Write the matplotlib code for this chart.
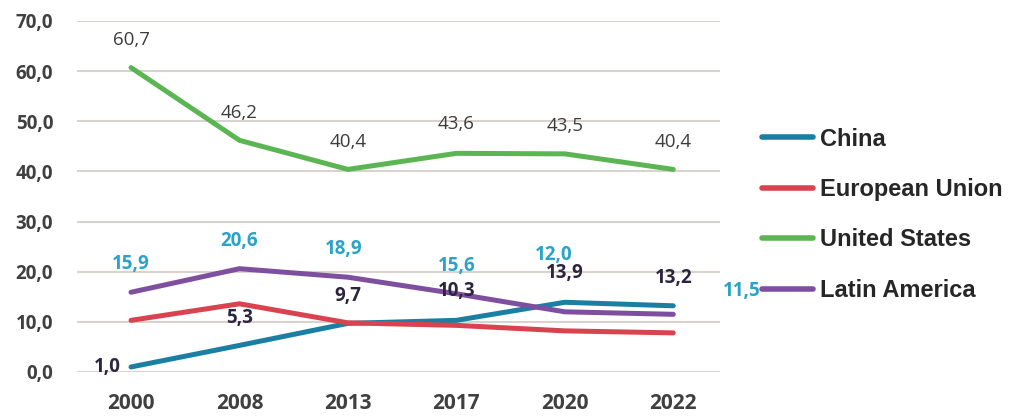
import matplotlib
matplotlib.use("Agg")
import matplotlib.pyplot as plt
from matplotlib.ticker import FuncFormatter

years = ["2000", "2008", "2013", "2017", "2020", "2022"]

china = [1.0, 5.3, 9.7, 10.3, 13.9, 13.2]
european_union = [10.3, 13.6, 9.8, 9.3, 8.2, 7.8]
united_states = [60.7, 46.2, 40.4, 43.6, 43.5, 40.4]
latin_america = [15.9, 20.6, 18.9, 15.6, 12.0, 11.5]

# label offsets in points (dx, dy) for each point
china_offsets = [(-17, 0), (0, 20), (0, 20), (0, 21), (0, 21), (0, 20)]
latam_offsets = [(0, 20), (0, 20), (-3, 20), (0, 20), (-8, 41), (49, 17)]
usa_offsets = [(0, 20), (0, 20), (0, 20), (0, 21), (0, 20), (0, 20)]

c_china = "#1b7ea3"
c_eu = "#d9434f"
c_usa = "#5cb553"
c_latam = "#7e4f9f"


def fmt_comma(v, pos=None):
    return f"{v:.1f}".replace(".", ",")


fig = plt.figure(figsize=(10.24, 4.16), dpi=100)
ax = fig.add_axes([0.075, 0.1058, 0.628, 0.8438])

x = range(len(years))
lw = 3.6
ax.plot(x, china, color=c_china, lw=lw, label="China", solid_capstyle="round", zorder=3)
ax.plot(x, european_union, color=c_eu, lw=lw, label="European Union", solid_capstyle="round", zorder=3)
ax.plot(x, united_states, color=c_usa, lw=lw, label="United States", solid_capstyle="round", zorder=3)
ax.plot(x, latin_america, color=c_latam, lw=lw, label="Latin America", solid_capstyle="round", zorder=3)


def put_labels(values, offsets, color, weight):
    for i, (v, off) in enumerate(zip(values, offsets)):
        ax.annotate(fmt_comma(v), xy=(i, v), xytext=off, textcoords="offset points",
                    ha="center", va="center", fontsize=13.5, color=color,
                    fontfamily="Open Sans", fontweight=weight, zorder=4)


put_labels(united_states, usa_offsets, "#3c3c3c", "normal")
put_labels(latin_america, latam_offsets, "#2aa3c9", "bold")
put_labels(china, china_offsets, "#2b2540", "bold")

ax.set_xlim(-0.5, 5.43)
ax.set_ylim(0, 70)
ax.set_yticks(range(0, 71, 10))
ax.yaxis.set_major_formatter(FuncFormatter(fmt_comma))
ax.set_xticks(list(x))
ax.set_xticklabels(years)

ax.grid(axis="y", color="#d8d3cf", lw=1.5, zorder=0)
ax.set_axisbelow(True)
for s in ax.spines.values():
    s.set_visible(False)
ax.tick_params(length=0, labelcolor="#404040")
ax.tick_params(axis="y", labelsize=13.5, pad=17)
ax.tick_params(axis="x", labelsize=15, pad=15)
for t in ax.get_xticklabels() + ax.get_yticklabels():
    t.set_fontfamily("Open Sans")
    t.set_fontweight("bold")

leg = ax.legend(loc="upper left", bbox_to_anchor=(0.744, 0.693), bbox_transform=fig.transFigure,
                frameon=False, borderpad=0, borderaxespad=0,
                handlelength=2.16, handletextpad=0.3, labelspacing=1.16,
                prop={"family": "Liberation Sans", "weight": "bold", "size": 17})
for line in leg.get_lines():
    line.set_linewidth(4)
for t in leg.get_texts():
    t.set_color("#262626")

fig.savefig("out.png", dpi=100)
